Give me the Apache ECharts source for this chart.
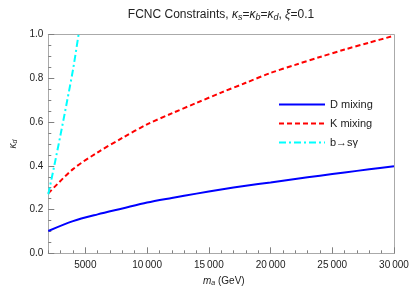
<!DOCTYPE html>
<html>
<head>
<meta charset="utf-8">
<script src="https://cdn.jsdelivr.net/npm/echarts@6/dist/echarts.min.js"></script>
<style>html,body{margin:0;padding:0;background:#fff}#c{width:415px;height:292px}</style>
</head>
<body>
<div id="c"></div>
<script>
var mass = [2000, 4000, 6000, 8000, 10000, 12000, 14000, 16000, 18000, 20000, 22000, 24000, 26000, 28000, 30000];
var dMixing = [0.102, 0.147, 0.178, 0.205, 0.232, 0.253, 0.273, 0.292, 0.309, 0.324, 0.340, 0.355, 0.370, 0.384, 0.398];
var kMixing = [0.274, 0.385, 0.462, 0.528, 0.590, 0.640, 0.688, 0.735, 0.780, 0.825, 0.862, 0.898, 0.932, 0.964, 0.995];
var bMass = [2000, 2500, 3000, 3500, 4000, 4450];
var bsGamma = [0.270, 0.405, 0.545, 0.690, 0.840, 1.000];
var xMajorTicks = [5000, 10000, 15000, 20000, 25000, 30000];

function pairs(xs, ys) { return xs.map(function (x, i) { return [x, ys[i]]; }); }
function fmtX(v) { return v >= 10000 ? String(v).replace(/(\d\d)(\d{3})$/, '$1\u2009$2') : String(v); }

var chart = echarts.init(document.getElementById('c'));
var FONT = 'Liberation Sans';
var AX = '#808080';
chart.setOption({
  animation: false,
  textStyle: { fontFamily: FONT },
  title: {
    text: 'FCNC Constraints, {i|κ}{sub|s}={i|κ}{sub|b}={i|κ}{sub|d}, {i|ξ}=0.1',
    left: 216, top: 3, textAlign: 'center',
    textStyle: {
      fontSize: 12, fontWeight: 'normal', color: '#222', fontFamily: FONT,
      rich: {
        i: { fontStyle: 'italic', fontSize: 12, color: '#222', fontFamily: FONT },
        sub: { fontStyle: 'italic', fontSize: 9, color: '#222', fontFamily: FONT, padding: [5, 0, 0, 0] }
      }
    }
  },
  grid: { left: 38.7, right: 21, top: 34.7, bottom: 38.7, show: false },
  legend: {
    orient: 'vertical', left: 273, top: 94, itemGap: 8,
    itemWidth: 46, itemHeight: 12,
    itemStyle: { opacity: 0 },
    textStyle: { fontSize: 11, color: '#222', fontFamily: FONT, padding: [0, 0, 0, 0] },
    data: ['D mixing', 'K mixing', 'b\u2192s\u03b3']
  },
  xAxis: [{
    type: 'value', min: 2000, max: 30000, interval: 1000, position: 'bottom',
    axisLine: { show: true, onZero: false, lineStyle: { color: '#aaaaaa' } },
    axisTick: { show: true, inside: true, length: 3, lineStyle: { color: AX, width: 1 } },
    axisLabel: { show: false },
    splitLine: { show: false }
  }, {
    type: 'value', min: 2000, max: 30000, position: 'bottom',
    axisLine: { show: false, onZero: false },
    axisTick: { show: true, inside: true, length: 6, customValues: xMajorTicks, lineStyle: { color: AX, width: 1 } },
    axisLabel: { show: true, customValues: xMajorTicks, formatter: fmtX, fontSize: 10, color: '#222', fontFamily: FONT, margin: 7 },
    splitLine: { show: false }
  }, {
    type: 'value', min: 2000, max: 30000, position: 'top',
    axisLine: { show: true, onZero: false, lineStyle: { color: '#aaaaaa' } },
    axisTick: { show: false }, axisLabel: { show: false }, splitLine: { show: false }
  }],
  yAxis: [{
    type: 'value', min: 0, max: 1, interval: 0.2, position: 'left',
    axisLine: { show: true, onZero: false, lineStyle: { color: '#aaaaaa' } },
    axisTick: { show: true, inside: true, length: 6, lineStyle: { color: AX, width: 1 } },
    minorTick: { show: true, splitNumber: 4, length: 3, lineStyle: { color: AX, width: 1 } },
    axisLabel: { formatter: function (v) { return v.toFixed(1); }, fontSize: 10, color: '#222', fontFamily: FONT, margin: 5 },
    splitLine: { show: false },
    name: '{i|κ}{sub|d}', nameLocation: 'middle', nameGap: 26, nameRotate: 90,
    nameTextStyle: {
      rich: {
        i: { fontStyle: 'italic', fontSize: 10, color: '#222', fontFamily: FONT },
        sub: { fontStyle: 'italic', fontSize: 7, color: '#222', fontFamily: FONT, padding: [4, 0, 0, 0] }
      }
    }
  }, {
    type: 'value', min: 0, max: 1, position: 'right',
    axisLine: { show: true, onZero: false, lineStyle: { color: '#aaaaaa' } },
    axisTick: { show: false }, axisLabel: { show: false }, splitLine: { show: false }
  }],
  graphic: [{
    type: 'text', left: 203, top: 276,
    style: {
      text: '{i|m}{sub|a} (GeV)',
      rich: {
        i: { fontStyle: 'italic', fontSize: 10, fill: '#222', fontFamily: FONT },
        sub: { fontStyle: 'italic', fontSize: 7, fill: '#222', fontFamily: FONT, padding: [4, 0, 0, 0] }
      },
      fontSize: 10, fill: '#222', fontFamily: FONT
    }
  }],
  series: [{
    name: 'D mixing', type: 'line', symbol: 'none', smooth: 0.3, xAxisIndex: 0, yAxisIndex: 0,
    lineStyle: { color: '#0000ff', width: 2 }, itemStyle: { color: '#0000ff' },
    data: pairs(mass, dMixing)
  }, {
    name: 'K mixing', type: 'line', symbol: 'none', smooth: 0.3, xAxisIndex: 0, yAxisIndex: 0,
    lineStyle: { color: '#ff0000', width: 2, type: [5, 3] }, itemStyle: { color: '#ff0000' },
    data: pairs(mass, kMixing)
  }, {
    name: 'b\u2192s\u03b3', type: 'line', symbol: 'none', smooth: 0.3, xAxisIndex: 0, yAxisIndex: 0,
    lineStyle: { color: '#00ffff', width: 2, type: [7, 3, 2, 3] }, itemStyle: { color: '#00ffff' },
    data: pairs(bMass, bsGamma)
  }]
});
</script>
</body>
</html>
